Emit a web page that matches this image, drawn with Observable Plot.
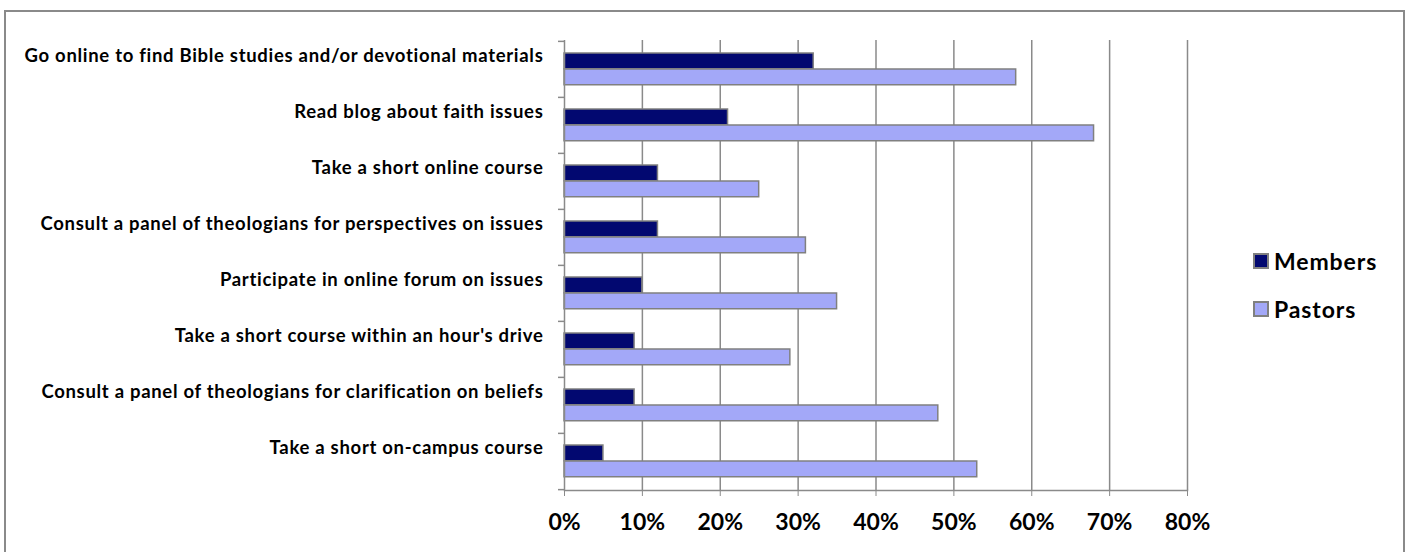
<!DOCTYPE html>
<html>
<head>
<meta charset="utf-8">
<script src="https://cdn.jsdelivr.net/npm/d3@7"></script>
<script src="https://cdn.jsdelivr.net/npm/@observablehq/plot@0.6"></script>
<style>
  html, body { margin: 0; padding: 0; background: #fff; }
  #wrap { position: relative; width: 1408px; height: 552px; overflow: hidden; font-family: Lato, "Open Sans", sans-serif; }
  #frame { position: absolute; left: 4px; top: 10px; width: 1401px; height: 600px; border: 2px solid #8a8a8a; box-sizing: border-box; }
  #chart { position: absolute; left: 0; top: 0; }
  .legend { position: absolute; left: 1253px; font-weight: bold; font-size: 23px; letter-spacing: 0.9px; color: #000; }
  .legend .item { position: absolute; white-space: nowrap; display: flex; align-items: center; }
  .legend .sw { width: 12px; height: 12px; border: 2px solid #808080; margin-right: 5px; }
</style>
</head>
<body>
<div id="wrap">
  <div id="frame"></div>
  <div id="chart"></div>
  <div class="legend" id="legend"></div>
</div>
<script>
const categories = [
  "Go online to find Bible studies and/or devotional materials",
  "Read blog about faith issues",
  "Take a short online course",
  "Consult a panel of theologians for perspectives on issues",
  "Participate in online forum on issues",
  "Take a short course within an hour's drive",
  "Consult a panel of theologians for clarification on beliefs",
  "Take a short on-campus course"
];
const members = [32, 21, 12, 12, 10, 9, 9, 5];
const pastors = [58, 68, 25, 31, 35, 29, 48, 53];
const seriesNames = ["Members", "Pastors"];
const seriesColors = ["#020870", "#a3a8f8"];
const xTicks = [0, 10, 20, 30, 40, 50, 60, 70, 80];

const rows = categories.flatMap((c, i) => [
  {category: c, series: seriesNames[0], value: members[i]},
  {category: c, series: seriesNames[1], value: pastors[i]}
]);

const H = 552, mTop = 40, mBottom = 62;
const band = (H - mTop - mBottom) / categories.length;

const chart = Plot.plot({
  width: 1408,
  height: H,
  marginLeft: 564,
  marginRight: 221,
  marginTop: mTop,
  marginBottom: mBottom,
  style: {fontFamily: "Lato, 'Open Sans', sans-serif", background: "transparent", color: "#000"},
  x: {domain: [0, 80], ticks: xTicks},
  y: {domain: categories, padding: 0},
  marks: [
    Plot.gridX(xTicks.filter(d => d > 0), {stroke: "#8a8a8a", strokeOpacity: 1, strokeWidth: 1.5}),
    Plot.barX(rows.filter(d => d.series === seriesNames[0]), {
      x: "value", y: "category", fill: seriesColors[0], stroke: "#808080", strokeWidth: 1.5,
      insetTop: 12, insetBottom: band - 28
    }),
    Plot.barX(rows.filter(d => d.series === seriesNames[1]), {
      x: "value", y: "category", fill: seriesColors[1], stroke: "#808080", strokeWidth: 1.5,
      insetTop: 28, insetBottom: band - 44
    }),
    Plot.ruleX([0], {stroke: "#8a8a8a", strokeWidth: 1.5}),
    Plot.frame({anchor: "bottom", stroke: "#8a8a8a", strokeWidth: 1.5}),
    Plot.ruleY(categories, {y: d => d, dy: -band / 2, x1: 0, x2: 0, insetLeft: -6, stroke: "#8a8a8a", strokeWidth: 1.5}),
    Plot.ruleY(categories.slice(-1), {y: d => d, dy: band / 2, x1: 0, x2: 0, insetLeft: -6, stroke: "#8a8a8a", strokeWidth: 1.5}),
    Plot.axisX({
      ticks: xTicks, tickFormat: d => d + "%", tickSize: 6, tickPadding: 17,
      fontSize: 23, fontWeight: "bold", stroke: "#8a8a8a", fill: "#000", label: null
    }),
    Plot.axisY({
      tickSize: 0, tickPadding: 21, fontSize: 18.5, fontWeight: "bold", fill: "#000", dy: -13, label: null
    })
  ]
});
chart.querySelectorAll("[aria-label='y-axis tick label'] text").forEach(t => t.setAttribute("letter-spacing", "0.7"));
document.getElementById("chart").appendChild(chart);

const legend = document.getElementById("legend");
const legendTops = [247, 295];
seriesNames.forEach((name, i) => {
  const item = document.createElement("div");
  item.className = "item";
  item.style.top = legendTops[i] + "px";
  const sw = document.createElement("span");
  sw.className = "sw";
  sw.style.background = seriesColors[i];
  const label = document.createElement("span");
  label.textContent = name;
  item.appendChild(sw);
  item.appendChild(label);
  legend.appendChild(item);
});
</script>
</body>
</html>
